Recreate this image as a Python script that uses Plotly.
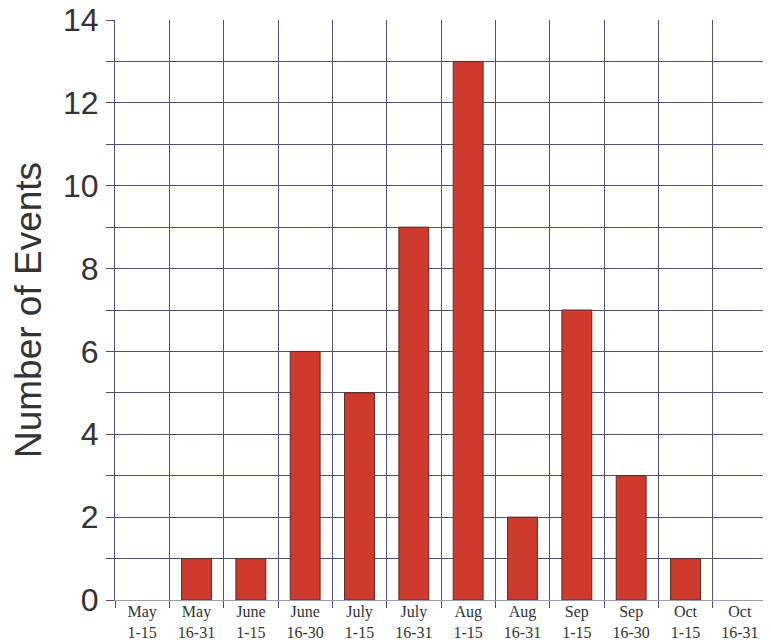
import plotly.graph_objects as go

categories = ["May<br>1-15", "May<br>16-31", "June<br>1-15", "June<br>16-30",
              "July<br>1-15", "July<br>16-31", "Aug<br>1-15", "Aug<br>16-31",
              "Sep<br>1-15", "Sep<br>16-30", "Oct<br>1-15", "Oct<br>16-31"]
events = [0, 1, 1, 6, 5, 9, 13, 2, 7, 3, 1, 0]
y_ticks = [0, 2, 4, 6, 8, 10, 12, 14]

grid = "#4f4f7e"

fig = go.Figure(go.Bar(
    x=categories, y=events,
    marker=dict(color="#cf3a2e",
                line=dict(color="#5a2a24", width=[1 if v > 0 else 0 for v in events])),
    width=0.55,
))

fig.update_layout(
    width=771, height=643,
    margin=dict(l=107, r=12, t=12, b=51, autoexpand=False),
    paper_bgcolor="white", plot_bgcolor="white",
    showlegend=False,
    xaxis=dict(
        type="category", range=[-0.5, 11.5], tickson="boundaries",
        showgrid=True, gridcolor=grid, gridwidth=1,
        ticks="outside", ticklen=7, tickcolor=grid,
        showline=True, linecolor="#9a9ab0", linewidth=1,
        tickfont=dict(family="Liberation Serif", size=16, color="#333333"),
        ticklabelstandoff=-3,
        ticklabeloverflow="allow",
        automargin=False,
        zeroline=False,
    ),
    yaxis=dict(
        range=[0, 14], tickvals=y_ticks,
        showgrid=True, gridcolor=grid, gridwidth=1,
        minor=dict(dtick=1, showgrid=True, gridcolor=grid, gridwidth=1,
                   ticks="outside", ticklen=8, tickcolor=grid),
        ticks="outside", ticklen=8, tickcolor=grid,
        showline=True, linecolor=grid, linewidth=1,
        tickfont=dict(family="Liberation Sans", size=32, color="#333333"),
        ticklabelstandoff=1,
        ticklabeloverflow="allow",
        title=dict(text="Number of Events",
                   font=dict(family="Liberation Sans", size=37, color="#333333"),
                   standoff=25),
        automargin=False,
        zeroline=False,
    ),
)

fig.add_shape(type="line", xref="paper", yref="paper", x0=1, x1=1, y0=0, y1=1,
              line=dict(color="#c8c8d0", width=1))

fig.write_html("out.html")
